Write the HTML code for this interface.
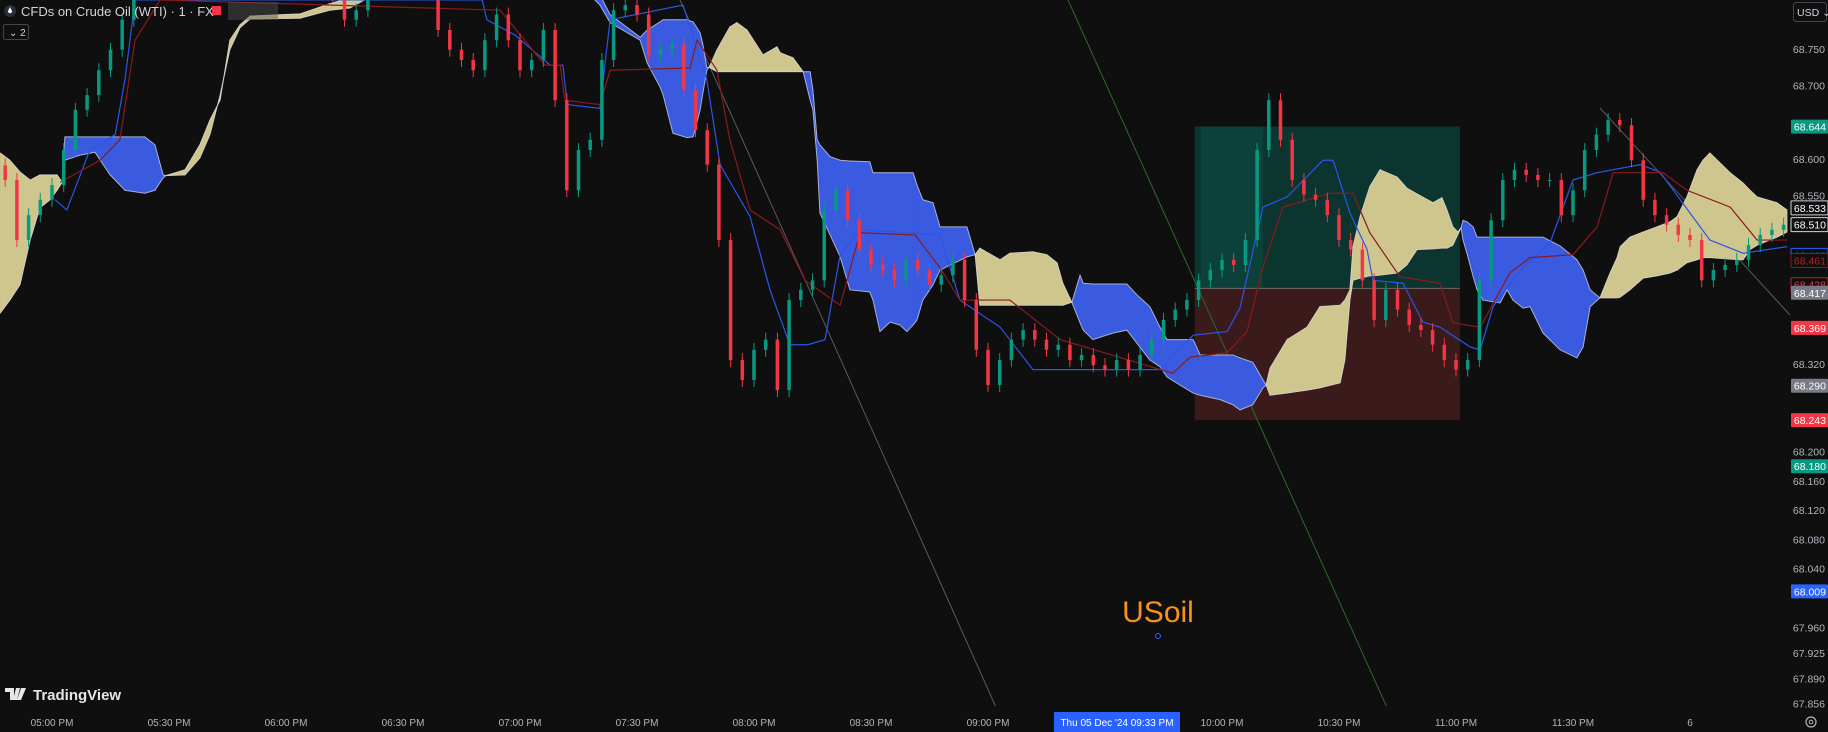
<!DOCTYPE html>
<html><head><meta charset="utf-8"><style>
html,body{margin:0;padding:0;background:#0f0f0f;overflow:hidden}
svg{display:block}
text{font-family:"Liberation Sans",sans-serif}
</style></head><body>
<svg id="chart" width="1828" height="732" viewBox="0 0 1828 732" xmlns="http://www.w3.org/2000/svg">
<rect x="0" y="0" width="1828" height="732" fill="#0f0f0f"/>
<g id="plot"></g>
<g id="axes"></g>
</svg>
<script>
// ---- data ----
const startMinute = -12;      // first bar, minutes after 05:00 PM
const barMinutes = 3;
const closes = [68.571,68.489,68.523,68.544,68.564,68.612,68.667,68.687,68.721,68.749,68.790,
68.830,68.845,68.860,68.850,68.870,68.855,68.840,68.835,68.831,68.844,68.851,68.858,68.844,68.837,68.844,68.851,68.831,68.824,68.790,
68.803,68.844,68.858,68.858,68.851,68.844,68.831,68.776,68.749,68.735,68.721,68.762,68.797,68.762,68.721,68.735,68.776,68.680,68.557,68.612,
68.626,68.735,68.803,68.810,68.797,68.742,68.749,68.756,68.694,68.639,68.592,68.489,68.325,68.298,68.339,68.353,68.284,68.407,68.421,68.434,
68.530,68.557,68.516,68.476,68.455,68.448,68.434,68.462,68.448,68.428,68.441,68.462,68.407,68.339,68.291,68.325,68.353,68.366,68.353,68.339,
68.346,68.325,68.332,68.318,68.312,68.325,68.312,68.332,68.353,68.380,68.394,68.407,68.434,68.448,68.462,68.455,68.489,68.612,68.680,68.626,
68.571,68.551,68.544,68.523,68.489,68.476,68.434,68.380,68.421,68.394,68.373,68.366,68.346,68.325,68.312,68.325,68.434,68.516,68.571,68.585,
68.578,68.571,68.571,68.523,68.557,68.612,68.633,68.653,68.646,68.598,68.544,68.523,68.510,68.496,68.489,68.434,68.448,68.455,68.462,68.482,
68.496,68.503,68.510];
const cloudTimes = [-13.3,-10.8,-8.2,-5.6,-3.1,-0.5,1.3,2.6,3.3,7.2,11.0,14.9,18.7,23.8,26.4,28.5,29.2,34.1,37.9,40.5,43.1,45.6,48.2,50.8,63.6,71.3,76.4,89.2,130.3,137.9,
140.5,143.1,150.8,152.6,155.9,156.7,159.2,162.8,164.4,166.2,166.9,167.9,168.5,170.5,173.8,175.6,178.2,182.3,185.9,186.7,190.0,192.6,
194.4,195.1,196.2,196.9,199.5,202.1,204.6,209.7,210.5,212.3,214.9,217.4,219.2,220.8,221.8,223.3,225.9,227.7,234.6,236.7,
237.9,243.1,245.6,251.5,255.1,257.7,259.2,261.5,
263.6,264.4,266.9,272.1,275.6,278.2,281.5,284.1,285.9,289.2,292.6,294.4,299.5,302.8,304.6,307.9,310.5,311.3,
312.3,316.7,321.8,325.1,330.3,331.5,332.8,333.6,335.4,337.9,340.5,344.9,347.4,350.0,354.1,356.4,357.7,359.2,360.5,361.3,
361.8,362.8,364.4,365.4,366.9,371.3,373.1,374.6,377.2,379.0,382.3,386.7,391.0,392.6,394.4,396.9,
399.5,401.3,402.1,404.6,408.0,411.5,414.9,416.7,419.2,421.8,423.3,425.1,430.3,433.6,435.4,437.2,442.3,444.9];
const spanA = [68.608,68.598,68.582,68.571,68.578,68.578,68.578,68.568,68.598,68.605,68.609,68.578,68.557,68.553,68.557,68.574,68.577,68.585,68.619,68.653,68.680,68.762,68.783,68.795,68.798,68.812,68.820,68.872,68.872,68.824,
68.810,68.786,68.762,68.731,68.698,68.687,68.635,68.629,68.630,68.667,68.690,68.721,68.725,68.749,68.780,68.786,68.776,68.742,68.753,68.745,68.738,68.719,
68.680,68.667,68.598,68.526,68.496,68.466,68.421,68.418,68.407,68.364,68.377,68.373,68.364,68.373,68.380,68.407,68.428,68.448,68.466,68.469,
68.478,68.462,68.471,68.473,68.469,68.458,68.430,68.404,
68.376,68.366,68.353,68.362,68.366,68.348,68.325,68.316,68.302,68.291,68.280,68.277,68.271,68.264,68.257,68.264,68.287,68.291,
68.314,68.353,68.370,68.398,68.400,68.407,68.421,68.480,68.521,68.562,68.585,68.575,68.560,68.552,68.540,68.547,68.530,68.507,68.500,68.506,
68.489,68.471,68.439,68.421,68.407,68.403,68.421,68.407,68.396,68.398,68.362,68.339,68.328,68.343,68.398,68.410,
68.444,68.465,68.480,68.493,68.500,68.507,68.514,68.521,68.548,68.585,68.598,68.608,68.581,68.567,68.557,68.548,68.540,68.530];
const spanB = [68.389,68.407,68.428,68.489,68.533,68.544,68.557,68.568,68.630,68.630,68.630,68.630,68.630,68.630,68.619,68.578,68.577,68.578,68.601,68.633,68.687,68.749,68.779,68.791,68.792,68.803,68.806,68.844,68.876,68.824,
68.824,68.797,68.766,68.776,68.787,68.790,68.790,68.790,68.787,68.772,68.756,68.725,68.725,68.719,68.719,68.719,68.719,68.719,68.719,68.719,68.719,68.719,
68.719,68.694,68.626,68.619,68.603,68.598,68.597,68.596,68.581,68.581,68.581,68.581,68.581,68.581,68.564,68.544,68.540,68.507,68.507,68.469,
68.400,68.400,68.400,68.400,68.400,68.400,68.400,68.404,
68.441,68.430,68.429,68.429,68.429,68.414,68.398,68.370,68.353,68.353,68.353,68.332,68.332,68.332,68.328,68.322,68.298,68.291,
68.277,68.280,68.284,68.287,68.294,68.325,68.407,68.434,68.437,68.440,68.441,68.444,68.455,68.476,68.477,68.478,68.478,68.482,68.497,68.506,
68.516,68.514,68.507,68.493,68.493,68.493,68.493,68.493,68.493,68.493,68.493,68.481,68.462,68.448,68.421,68.410,
68.410,68.410,68.411,68.421,68.437,68.440,68.444,68.448,68.458,68.462,68.465,68.465,68.463,68.462,68.476,68.482,68.493,68.500];
const convTimes = [0.8,3.8,9.7,16.2,18.7,21.3,110.3,111.5,118.7,127.7,131.0,132.1,140.5,143.1,161.8,167.9,171.3,179.0,184.1,189.2,193.8,198.2,202.1,207.2,227.7,232.8,243.1,251.5,284.1,292.6,301.3,304.6,310.5,316.7,325.9,328.5,332.8,337.2,338.7,346.4,351.5,355.9,363.6,366.2,369.5,377.2,384.1,390.0,396.2,407.2,412.3,420.0,425.1,433.6,444.9];
const convValues = [68.544,68.530,68.612,68.633,68.708,68.817,68.817,68.790,68.769,68.728,68.728,68.674,68.669,68.790,68.810,68.708,68.592,68.521,68.421,68.346,68.346,68.353,68.469,68.503,68.496,68.407,68.370,68.312,68.312,68.359,68.364,68.396,68.534,68.548,68.598,68.598,68.526,68.476,68.434,68.430,68.377,68.370,68.343,68.339,68.398,68.452,68.485,68.571,68.581,68.592,68.582,68.526,68.489,68.471,68.480];
const baseTimes = [2.1,12.3,17.4,21.3,27.7,114.9,126.4,130.3,131.5,140.5,143.1,163.6,165.4,170.5,173.8,179.0,186.7,193.1,202.1,207.2,221.3,227.7,232.8,245.6,258.5,287.4,291.8,301.3,306.4,310.5,315.6,327.7,333.6,337.9,345.6,355.9,359.2,366.2,373.8,379.0,390.0,396.2,400.3,413.1,419.2,430.3,437.2,444.9];
const baseValues = [68.568,68.598,68.626,68.762,68.817,68.803,68.728,68.728,68.680,68.674,68.721,68.724,68.762,68.721,68.626,68.530,68.503,68.434,68.400,68.499,68.496,68.451,68.407,68.407,68.353,68.307,68.329,68.335,68.364,68.452,68.534,68.553,68.553,68.499,68.439,68.430,68.376,68.370,68.444,68.465,68.469,68.507,68.581,68.581,68.557,68.534,68.489,68.489];
const timeLabels = ["05:00 PM","05:30 PM","06:00 PM","06:30 PM","07:00 PM","07:30 PM","08:00 PM","08:30 PM","09:00 PM","","10:00 PM","10:30 PM","11:00 PM","11:30 PM","6"];
const timeTickMinutes = [0,30,60,90,120,150,180,210,240,270,300,330,360,390,420];
const priceTicks = [68.750,68.700,68.600,68.550,68.320,68.200,68.160,68.120,68.080,68.040,67.960,67.925,67.890,67.856];
const priceTickLabels = ["68.750","68.700","68.600","68.550","68.320","68.200","68.160","68.120","68.080","68.040","67.960","67.925","67.890","67.856"];
const badgeValues = [68.644,68.533,68.510,68.468,68.461,68.428,68.417,68.369,68.290,68.243,68.180,68.009];
const badgeLabels = ["68.644","68.533","68.510","68.468","68.461","68.428","68.417","68.369","68.290","68.243","68.180","68.009"];
const badgeKinds = ["teal","outline","outline","blue-o","red-o","red-o2","gray","red","gray","red","teal","blue"];
const positionEntry = 68.423, positionTarget = 68.644, positionStop = 68.243;
const positionStartMin = 293, positionEndMin = 361;

// ---- axis functions ----
const NS = "http://www.w3.org/2000/svg";
const xOf = t => 52 + t * 3.9;
const yOf = p => 49 + (68.75 - p) * 732;
const plot = document.getElementById('plot');
const axes = document.getElementById('axes');
function mk(tag, attrs, parent) {
  const e = document.createElementNS(NS, tag);
  for (const k in attrs) e.setAttribute(k, attrs[k]);
  parent.appendChild(e);
  return e;
}
const defs = mk('defs', {}, document.getElementById('chart'));
const cp = mk('clipPath', {id: 'clipPlot'}, defs);
mk('rect', {x: 0, y: 0, width: 1790, height: 706}, cp);
plot.setAttribute('clip-path', 'url(#clipPlot)');

// position tool
const px0 = xOf(positionStartMin), px1 = xOf(positionEndMin);
const pg = mk('rect', {x: px0, y: yOf(positionTarget), width: px1 - px0, height: yOf(positionEntry) - yOf(positionTarget), fill: '#0c3530'}, plot);


const pg2 = mk('rect', {x: px0 + 6, y: yOf(positionTarget), width: 62, height: yOf(positionEntry) - yOf(positionTarget), fill: '#0e4a40', opacity: 0.6}, plot);


const pr = mk('rect', {x: px0, y: yOf(positionEntry), width: px1 - px0, height: yOf(positionStop) - yOf(positionEntry), fill: '#3a1a1a'}, plot);


const pl = mk('line', {x1: px0, x2: px1, y1: yOf(positionEntry), y2: yOf(positionEntry), stroke: '#6a6a6a', 'stroke-width': 1}, plot);



// trend lines
const tl1 = mk('line', {x1: 680, y1: 0, x2: 1003, y2: 723, stroke: '#5a5a5a', 'stroke-width': 1}, plot);


const tl2 = mk('line', {x1: 1068, y1: 0, x2: 1389, y2: 712, stroke: '#2f6a2a', 'stroke-width': 1}, plot);


const tl3 = mk('line', {x1: 1600, y1: 108, x2: 1790, y2: 315, stroke: '#5a5a5a', 'stroke-width': 1}, plot);



// ichimoku cloud
const cloudG = mk('g', {}, plot);


for (let k = 0; k < cloudTimes.length - 1; k++) {
  const xa = xOf(cloudTimes[k]), xb = xOf(cloudTimes[k + 1]);
  const d = (spanA[k] - spanB[k]) + (spanA[k + 1] - spanB[k + 1]);
  const col = d >= 0 ? '#cfc68e' : '#3a5ae0';
  const q = mk('polygon', {points: `${xa},${yOf(spanA[k])} ${xb},${yOf(spanA[k+1])} ${xb},${yOf(spanB[k+1])} ${xa},${yOf(spanB[k])}`, fill: col, stroke: col, 'stroke-width': 0.6}, cloudG);
  
  
}
const ptsA = cloudTimes.map((t, k) => xOf(t) + ',' + yOf(spanA[k])).join(' ');
const ptsB = cloudTimes.map((t, k) => xOf(t) + ',' + yOf(spanB[k])).join(' ');
const la = mk('polyline', {points: ptsA, fill: 'none', stroke: '#d8d8d8', 'stroke-width': 1, opacity: 0.7}, cloudG);


const lb = mk('polyline', {points: ptsB, fill: 'none', stroke: '#d8d8d8', 'stroke-width': 1, opacity: 0.7}, cloudG);



// conversion / base lines
const cl = mk('polyline', {points: convTimes.map((t, k) => xOf(t) + ',' + yOf(convValues[k])).join(' '), fill: 'none', stroke: '#2b55e8', 'stroke-width': 1.2}, plot);


const bl = mk('polyline', {points: baseTimes.map((t, k) => xOf(t) + ',' + yOf(baseValues[k])).join(' '), fill: 'none', stroke: '#8b1a1a', 'stroke-width': 1.2}, plot);



// candles
const candleG = mk('g', {}, plot);


for (let i = 0; i < closes.length; i++) {
  const o = i === 0 ? closes[0] + 0.02 : closes[i - 1];
  const c = closes[i];
  const x = xOf(startMinute + i * barMinutes);
  const up = c >= o;
  const col = up ? '#089981' : '#f23645';
  const yt = yOf(Math.max(o, c)), yb = yOf(Math.min(o, c));
  const w = mk('line', {x1: x, x2: x, y1: yt - 7, y2: yb + 7, stroke: col, 'stroke-width': 1}, candleG);
  
  
  const b = mk('rect', {x: x - 1.75, y: yt, width: 3.5, height: Math.max(1, yb - yt), fill: col}, candleG);
  
  
}

// watermark
const wm = mk('text', {x: 1158, y: 622, fill: '#f7931a', 'font-size': 30, 'text-anchor': 'middle'}, plot);
wm.textContent = 'USoil';


const wc = mk('circle', {cx: 1158, cy: 636, r: 2.5, fill: 'none', stroke: '#2962ff', 'stroke-width': 1}, plot);



// time axis
for (let k = 0; k < timeLabels.length; k++) {
  if (!timeLabels[k]) continue;
  const t = mk('text', {x: xOf(timeTickMinutes[k]), y: 726, fill: '#b2b5be', 'font-size': 10, 'text-anchor': 'middle'}, axes);
  t.textContent = timeLabels[k];
  
  
}
const cr = mk('rect', {x: 1054, y: 712, width: 126, height: 20, fill: '#2962ff'}, axes);


const crt = mk('text', {x: 1117, y: 726, fill: '#ffffff', 'font-size': 10, 'text-anchor': 'middle'}, axes);
crt.textContent = "Thu 05 Dec '24   09:33 PM";



// price axis
for (let k = 0; k < priceTicks.length; k++) {
  const t = mk('text', {x: 1825, y: yOf(priceTicks[k]) + 4, fill: '#b2b5be', 'font-size': 10.5, 'text-anchor': 'end'}, axes);
  t.textContent = priceTickLabels[k];
  
  
}
const styles = {
  teal: ['#089981', 'none', '#ffffff'], outline: ['#0f0f0f', '#d1d4dc', '#ffffff'], 'blue-o': ['#0f0f0f', '#2962ff', '#2962ff'],
  'red-o': ['#0f0f0f', '#8b1a1a', '#b22222'], 'red-o2': ['#0f0f0f', '#b22833', '#e0404a'], gray: ['#787b86', 'none', '#ffffff'],
  red: ['#f23645', 'none', '#ffffff'], blue: ['#2962ff', 'none', '#ffffff']
};
for (let k = 0; k < badgeValues.length; k++) {
  const s = styles[badgeKinds[k]];
  const y = yOf(badgeValues[k]);
  const r = mk('rect', {x: 1791, y: y - 7, width: 37, height: 14, fill: s[0], stroke: s[1], 'stroke-width': 1, rx: 1}, axes);
  
  
  const t = mk('text', {x: 1826, y: y + 4, fill: s[2], 'font-size': 10.5, 'text-anchor': 'end'}, axes);
  t.textContent = badgeLabels[k];
  
  
}
</script>
<svg style="position:absolute;left:0;top:0" width="1828" height="732" xmlns="http://www.w3.org/2000/svg">
<g>
<circle cx="10" cy="11" r="6" fill="#2a2e39"/>
<path d="M10 7 L7.8 11.5 A2.3 2.3 0 0 0 12.2 11.5 Z" fill="#ffffff"/>
<text x="21" y="16" fill="#d1d4dc" font-size="13">CFDs on Crude Oil (WTI) · 1 · FX</text>
<rect x="212" y="6" width="9" height="9" fill="#f23645"/>
<rect x="228" y="2" width="50" height="18" fill="#555" opacity="0.45"/>
</g>
<g>
<rect x="3.5" y="24.5" width="25" height="15" rx="2" fill="#0f0f0f" stroke="#434651"/>
<text x="9" y="36" fill="#d1d4dc" font-size="10">⌄ 2</text>
</g>
<g>
<rect x="1793.5" y="2.5" width="33" height="19" rx="3" fill="#0f0f0f" stroke="#434651"/>
<text x="1797" y="16" fill="#d1d4dc" font-size="10.5">USD ⌄</text>
</g>
<g>
<path d="M5 688 h9 v12 h-4 v-8 h-5z M16 688 h4 l-3 12 h-4z M21 688 h5 l-5 12 h-4z" fill="#e6e6e6"/>
<text x="33" y="700" fill="#e6e6e6" font-size="15" font-weight="bold">TradingView</text>
</g>
<g>
<circle cx="1811" cy="722" r="5" fill="none" stroke="#b2b5be" stroke-width="1.2"/>
<circle cx="1811" cy="722" r="1.8" fill="none" stroke="#b2b5be" stroke-width="1"/>
</g>
</svg>
</body></html>
